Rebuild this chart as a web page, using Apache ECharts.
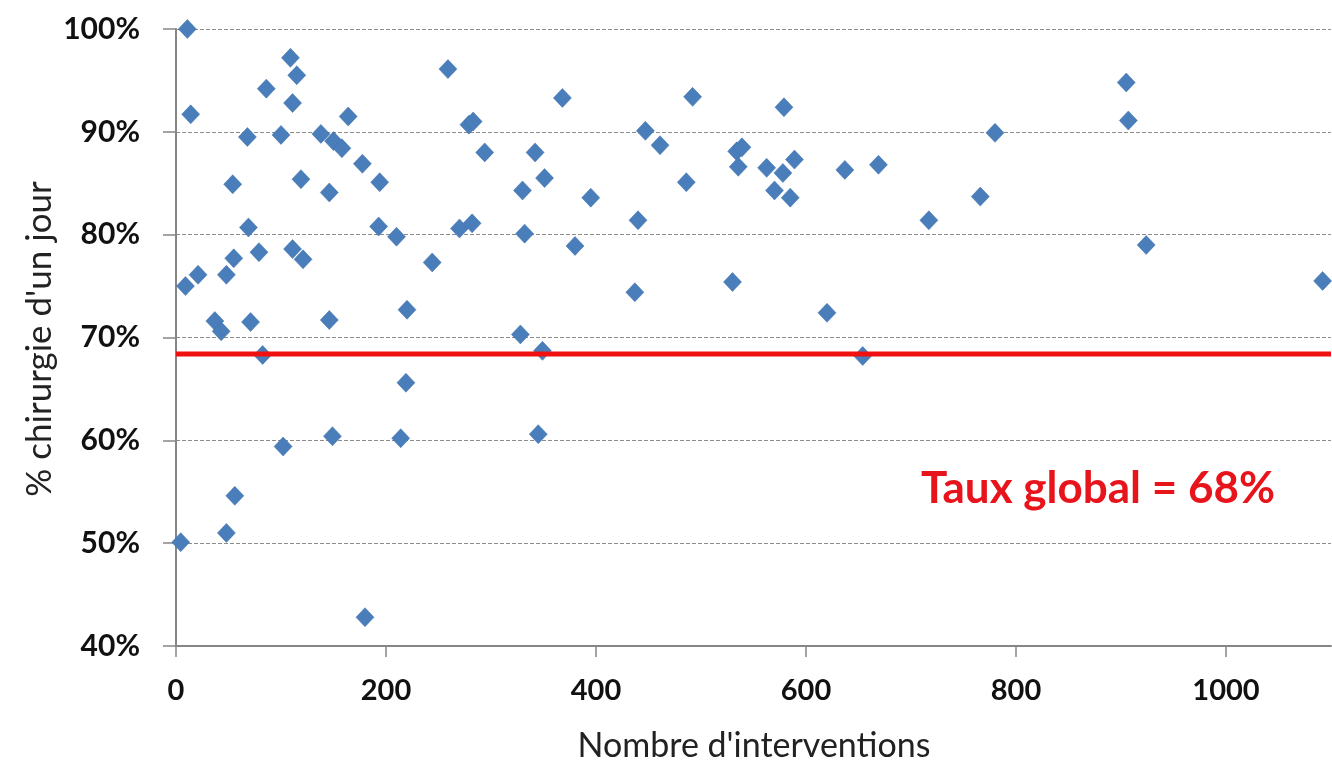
<!DOCTYPE html>
<html>
<head>
<meta charset="utf-8">
<script src="https://cdn.jsdelivr.net/npm/echarts@6/dist/echarts.min.js"></script>
<style>
html,body{margin:0;padding:0;background:#fff;}
#chart{width:1332px;height:764px;}
</style>
</head>
<body>
<div id="chart"></div>
<script>
// Nombre d'interventions (x) and % chirurgie d'un jour (y)
const interventions = [10.8,14,9,21,4.5,37,43,48,55,54,56,48,68,69,71,79,82.5,86,100,102,109,111,115,111,119,121,138,146,146,149,150,158,164,177.5,180,193,194,210,220,219,214,244,259,270,282,279,283,294,328,330,332,342,351,349,345,368,380,395,437,440,447,461,486,492,530,534,539,535.5,562.5,570,579,578,585,589,620,637,654,669,717,766,780,905,907,924,1092];
const tauxJour = [100,91.7,75.0,76.1,50.1,71.6,70.6,76.1,77.7,84.9,54.6,51.0,89.5,80.7,71.5,78.3,68.3,94.2,89.7,59.4,97.2,92.8,95.5,78.6,85.4,77.6,89.8,84.1,71.7,60.4,89.1,88.4,91.5,86.9,42.8,80.8,85.1,79.8,72.7,65.6,60.2,77.3,96.1,80.6,81.1,90.7,91.0,88.0,70.3,84.3,80.1,88.0,85.5,68.7,60.6,93.3,78.9,83.6,74.4,81.4,90.1,88.7,85.1,93.4,75.4,88.1,88.5,86.6,86.5,84.3,92.4,86.0,83.6,87.3,72.4,86.3,68.2,86.8,81.4,83.7,89.9,94.8,91.1,79.0,75.5];
const tauxGlobal = 68.4;
const tauxGlobalLabel = 'Taux global = 68%';
const xRange = [0, 1100];
const xTickLabels = [0, 200, 400, 600, 800, 1000];
const yTickLabels = [40, 50, 60, 70, 80, 90, 100];
const xTitle = "Nombre d'interventions";
const yTitle = "% chirurgie d'un jour";

const points = interventions.map((x, i) => [x, tauxJour[i]]);
const globalLine = xRange.map(x => [x, tauxGlobal]);

const chart = echarts.init(document.getElementById('chart'));
const FONT = 'Lato';
chart.setOption({
  animation: false,
  backgroundColor: '#ffffff',
  grid: { left: 176, right: 1, top: 29, bottom: 118, containLabel: false },
  xAxis: {
    type: 'value', min: xRange[0], max: xRange[1], interval: 200,
    axisLine: { show: true, lineStyle: { color: '#868686', width: 2 } },
    axisTick: { show: true, length: 11, customValues: xTickLabels, lineStyle: { color: '#868686', width: 1.5 } },
    axisLabel: { customValues: xTickLabels, margin: 30, fontFamily: FONT, fontWeight: 'bold', fontSize: 29, color: '#111', formatter: v => String(v) },
    splitLine: { show: false }
  },
  yAxis: {
    type: 'value', min: 40, max: 100, interval: 10,
    axisLine: { show: true, lineStyle: { color: '#868686', width: 2 } },
    axisTick: { show: true, length: 13, customValues: yTickLabels, lineStyle: { color: '#868686', width: 1.5 } },
    axisLabel: { customValues: yTickLabels, margin: 36, fontFamily: FONT, fontWeight: 'bold', fontSize: 30, color: '#111', formatter: v => v + '%' },
    splitLine: { show: true, lineStyle: { color: '#8c8c8c', width: 1, type: [4, 2] } }
  },
  graphic: [
    { type: 'text', left: 921, top: 467, style: { text: tauxGlobalLabel, fill: '#E8141B', font: 'bold 44px Lato' } },
    { type: 'text', x: 754, y: 746, style: { text: xTitle, fill: '#222', font: '34px Lato', textAlign: 'center', textVerticalAlign: 'middle' } },
    { type: 'text', x: 40, y: 339, rotation: Math.PI / 2, style: { text: yTitle, fill: '#222', font: '35px Lato', textAlign: 'center', textVerticalAlign: 'middle' } }
  ],
  series: [
    {
      type: 'line', data: globalLine, symbol: 'none', silent: true, z: 3,
      lineStyle: { color: '#F01010', width: 5 }
    },
    {
      type: 'scatter', data: points, symbol: 'diamond', symbolSize: [18, 19], z: 2,
      itemStyle: { color: '#4A7EBB', opacity: 1, borderColor: '#3F6FA8', borderWidth: 0.5 }
    }
  ]
});
</script>
</body>
</html>
